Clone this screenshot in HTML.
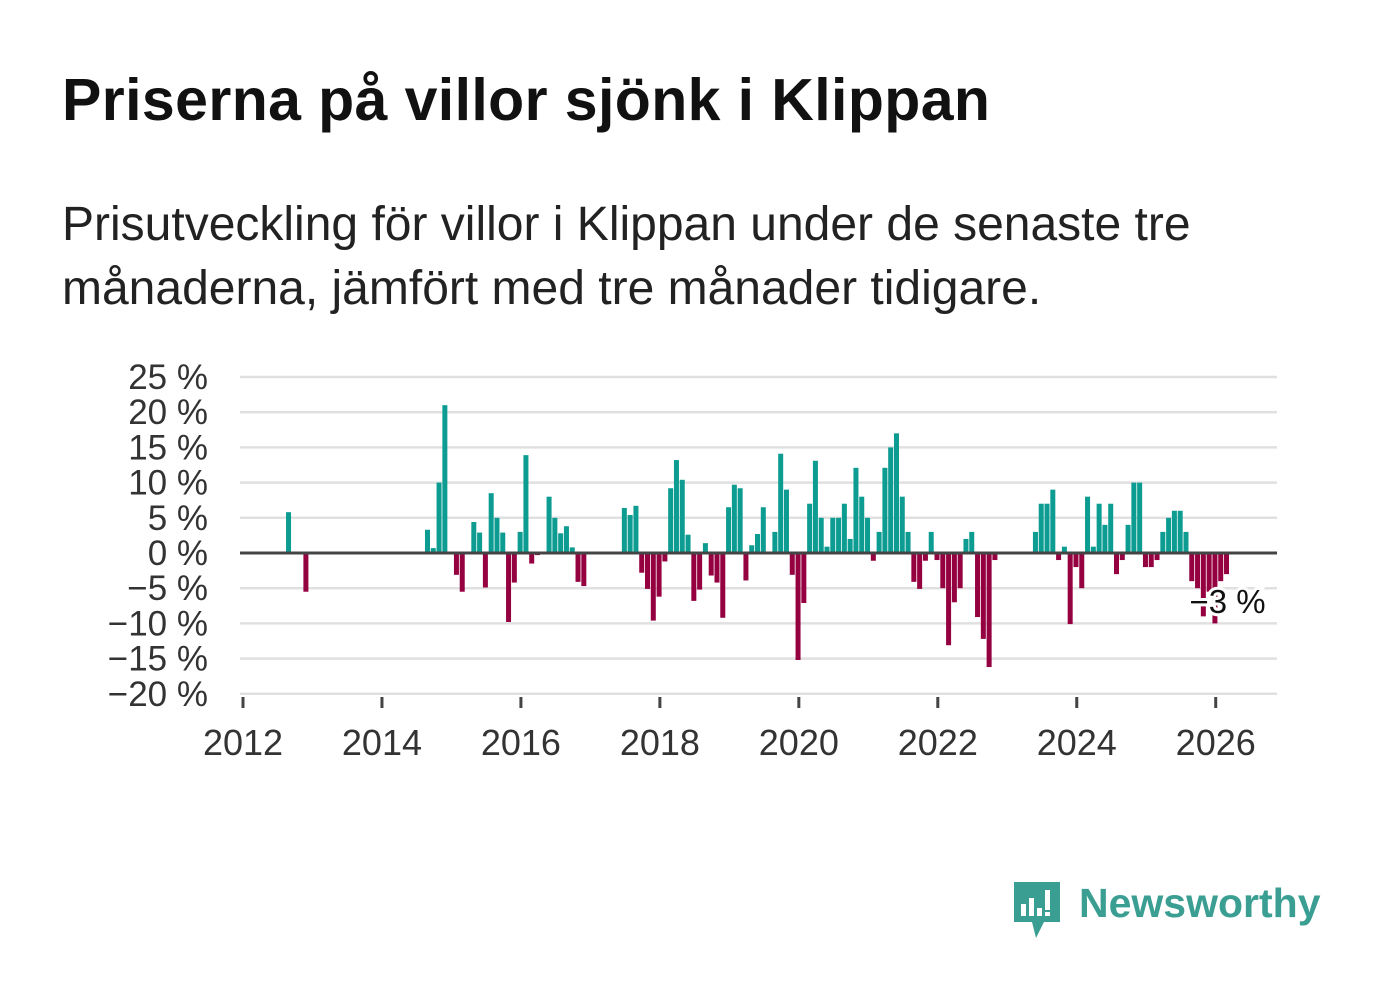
<!DOCTYPE html>
<html><head><meta charset="utf-8">
<style>
body{margin:0;background:#fff;width:1382px;height:999px;overflow:hidden;font-family:"Liberation Sans",sans-serif;}
#title{position:absolute;left:62px;top:66px;font-size:59px;font-weight:bold;color:#111;margin:0;letter-spacing:0.4px;white-space:nowrap}
#sub{position:absolute;left:62px;top:193px;font-size:48px;line-height:64px;color:#222;width:1300px;white-space:nowrap}
svg{position:absolute;left:0;top:0}
</style></head><body>
<h1 id="title">Priserna på villor sjönk i Klippan</h1>
<div id="sub">Prisutveckling för villor i Klippan under de senaste tre<br>månaderna, jämfört med tre månader tidigare.</div>
<svg id="chart" width="1382" height="999"></svg>
<div style="position:absolute;left:1012px;top:880px;">
<svg width="50" height="60" style="position:absolute;left:0;top:0"><path d="M2 2 H48 V42 H32 L24 58 L20 42 H2 Z" fill="#3a9e92"/><rect x="9" y="24" width="5" height="12" fill="#fff"/><rect x="17" y="18" width="5" height="18" fill="#fff"/><rect x="25" y="28" width="5" height="8" fill="#fff"/><rect x="33" y="10" width="5" height="20" fill="#fff"/><rect x="33" y="32" width="5" height="4" fill="#fff"/></svg>
<div style="position:absolute;left:67px;top:0;font-size:41px;font-weight:bold;color:#3a9e92;white-space:nowrap">Newsworthy</div>
</div>
<script>
const months=[7,10,31,32,33,34,36,37,39,40,41,42,43,44,45,46,47,48,49,50,52,53,54,55,56,57,58,65,66,67,68,69,70,71,72,73,74,75,76,77,78,79,80,81,82,83,84,85,86,87,88,89,91,92,93,94,95,96,97,98,99,100,101,102,103,104,105,106,107,108,109,110,111,112,113,114,115,116,117,118,119,120,121,122,123,124,125,126,127,128,129,136,137,138,139,140,141,142,143,144,145,146,147,148,149,150,151,152,153,154,155,156,157,158,159,160,161,162,163,164,165,166,167,168,169];
const values=[5.8,-5.5,3.3,0.7,10,21,-3.1,-5.5,4.4,2.9,-4.9,8.5,5,2.9,-9.8,-4.2,3,13.9,-1.5,-0.3,8,5,2.8,3.8,0.8,-4.1,-4.7,6.4,5.4,6.7,-2.8,-5.1,-9.6,-6.2,-1.2,9.2,13.2,10.4,2.6,-6.8,-5.2,1.4,-3.2,-4.2,-9.2,6.5,9.7,9.2,-3.9,1.1,2.7,6.5,3,14.1,9,-3.1,-15.2,-7.1,7,13.1,5,0.9,5,5,7,2,12.1,8,5,-1.1,3,12.1,15,17,8,3,-4.1,-5.1,-1.1,3,-1,-5,-13.1,-7,-5,2,3,-9.1,-12.2,-16.2,-1,3,7,7,9,-1,0.9,-10.1,-2,-5,8,0.9,7,4,7,-3,-1,4,10,10,-2,-2,-1,3,5,6,6,3,-4,-5,-9,-5.5,-10,-4,-3];
const yTicks=[25,20,15,10,5,0,-5,-10,-15,-20];
const yTickLabels=["25 %","20 %","15 %","10 %","5 %","0 %","−5 %","−10 %","−15 %","−20 %"];
const xTicks=[2012,2014,2016,2018,2020,2022,2024,2026];
const lastLabel="−3 %";
const NS="http://www.w3.org/2000/svg";
const svg=document.getElementById('chart');
const x=m=>243+m*5.79;
const xYear=yr=>x((yr-2012)*12);
const y=v=>553-v*7.04;
function mk(t,a){const e=document.createElementNS(NS,t);for(const k in a)e.setAttribute(k,a[k]);svg.appendChild(e);return e;}
yTicks.forEach((t,i)=>{
  const g=mk('line',{x1:240,x2:1277,y1:y(t),y2:y(t),stroke:'#e0e0e0','stroke-width':2.5});
  
  
  const l=mk('text',{x:208,y:y(t)+12,'text-anchor':'end','font-size':35,fill:'#333','font-family':'Liberation Sans, sans-serif'});
  l.textContent=yTickLabels[i];
  
  
});
months.forEach((m,i)=>{
  const v=values[i];
  const r=mk('rect',{x:x(m)+2.5,width:5,y:Math.min(y(v),y(0)),height:Math.abs(y(v)-y(0)),fill:v>=0?'#0d9c91':'#950040'});
  
  
});
const z=mk('line',{x1:240,x2:1277,y1:y(0),y2:y(0),stroke:'#444','stroke-width':3});


xTicks.forEach(t=>{
  const tk=mk('line',{x1:xYear(t),x2:xYear(t),y1:697,y2:708,stroke:'#444','stroke-width':3});
  
  
  const l=mk('text',{x:xYear(t),y:755,'text-anchor':'middle','font-size':36,fill:'#333','font-family':'Liberation Sans, sans-serif'});
  l.textContent=t;
  
  
});
const lm=months[months.length-1];
const lab=mk('text',{x:x(lm)+6,y:613,'text-anchor':'middle','font-size':33,fill:'#111',stroke:'#fff','stroke-width':6,'paint-order':'stroke','font-family':'Liberation Sans, sans-serif'});
lab.textContent=lastLabel;


</script>
</body></html>
